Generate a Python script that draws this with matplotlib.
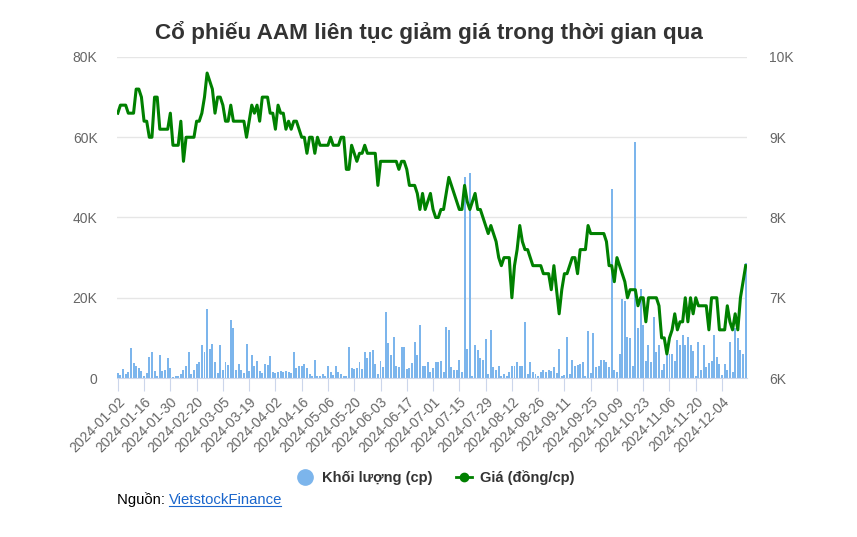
import numpy as np
import pandas as pd
import matplotlib
matplotlib.use("Agg")
import matplotlib.pyplot as plt
from matplotlib.lines import Line2D
from matplotlib.ticker import FuncFormatter, FixedLocator

# Trading days on HOSE (weekends and holidays removed)
holidays = ['2024-01-01', '2024-02-08', '2024-02-09', '2024-02-12', '2024-02-13',
            '2024-02-14', '2024-04-18', '2024-04-29', '2024-04-30', '2024-05-01',
            '2024-09-02', '2024-09-03']

# Price (thousand dong / share)
price = [9.3, 9.4, 9.4, 9.4, 9.3, 9.3, 9.3, 9.6, 9.6, 9.5,
         9.2, 9.2, 9.0, 9.0, 9.5, 9.5, 9.1, 9.1, 9.1, 9.1,
         9.3, 8.9, 8.9, 8.9, 9.2, 8.7, 9.0, 9.0, 9.0, 9.0,
         9.2, 9.2, 9.3, 9.5, 9.8, 9.7, 9.6, 9.3, 9.5, 9.5,
         9.4, 9.2, 9.2, 9.4, 9.2, 9.2, 9.2, 9.2, 9.2, 9.0,
         9.2, 9.4, 9.3, 9.4, 9.2, 9.5, 9.5, 9.5, 9.3, 9.3,
         9.1, 9.4, 9.3, 9.3, 9.1, 9.2, 9.1, 9.2, 9.2, 9.1,
         9.0, 9.0, 8.8, 9.0, 9.0, 8.8, 9.0, 8.9, 8.9, 8.9,
         8.9, 9.0, 8.9, 8.9, 8.9, 9.0, 9.0, 8.6, 8.6, 8.9,
         8.8, 8.7, 8.8, 8.8, 8.9, 8.8, 8.8, 8.8, 8.8, 8.4,
         8.7, 8.7, 8.7, 8.7, 8.7, 8.7, 8.7, 8.6, 8.7, 8.7,
         8.6, 8.4, 8.4, 8.4, 8.3, 8.1, 8.3, 8.1, 8.2, 8.3,
         8.1, 8.0, 8.0, 8.1, 8.1, 8.3, 8.5, 8.4, 8.3, 8.2,
         8.1, 8.1, 8.4, 8.2, 8.1, 8.2, 8.3, 8.1, 8.1, 8.0,
         7.9, 7.8, 7.9, 7.8, 7.7, 7.5, 7.4, 7.5, 7.5, 7.5,
         7.0, 7.4, 7.6, 7.9, 7.7, 7.6, 7.6, 7.5, 7.4, 7.4,
         7.4, 7.4, 7.3, 7.3, 7.3, 7.1, 7.4, 7.1, 6.8, 7.1,
         7.3, 7.3, 7.4, 7.5, 7.5, 7.3, 7.6, 7.6, 7.6, 7.9,
         7.8, 7.8, 7.8, 7.8, 7.8, 7.8, 7.7, 7.4, 7.4, 7.2,
         7.5, 7.4, 7.3, 7.2, 7.0, 7.1, 7.1, 7.1, 6.9, 7.0,
         7.0, 6.7, 7.0, 7.0, 7.0, 7.0, 6.9, 6.5, 6.5, 6.3,
         6.5, 6.6, 6.8, 6.6, 6.7, 6.7, 7.0, 6.7, 7.0, 6.8,
         7.0, 6.9, 6.9, 6.9, 6.9, 6.6, 7.0, 7.0, 7.0, 6.6,
         6.6, 6.6, 6.9, 6.7, 6.6, 6.8, 6.6, 7.0, 7.2, 7.4]

# Volume (thousand shares)
volume = [1.3, 0.8, 2.2, 1.0, 1.5, 7.5, 3.7, 2.9, 2.5, 1.7,
          0.5, 1.2, 5.3, 6.5, 1.7, 0.6, 5.7, 1.7, 2.1, 4.9,
          2.4, 0.3, 0.4, 0.6, 1.1, 1.9, 3.1, 6.4, 1.1, 2.0,
          3.5, 4.0, 8.1, 6.5, 17.2, 7.3, 8.5, 4.0, 1.2, 8.3,
          2.0, 4.0, 3.3, 14.4, 12.4, 2.0, 3.5, 1.9, 1.2, 8.4,
          1.7, 5.8, 3.0, 4.3, 1.7, 1.2, 3.5, 3.3, 5.4, 1.5,
          1.2, 1.5, 1.7, 1.5, 1.7, 1.5, 1.2, 6.5, 2.4, 3.1,
          3.1, 3.5, 2.4, 1.0, 0.5, 4.6, 0.6, 0.4, 1.0, 0.6,
          3.1, 1.5, 0.8, 3.1, 1.5, 1.0, 0.5, 0.6, 7.8, 2.4,
          2.2, 2.4, 4.0, 2.2, 6.5, 4.9, 6.5, 7.0, 3.5, 1.0,
          4.3, 2.8, 16.5, 8.8, 5.7, 10.1, 3.1, 2.8, 7.8, 7.8,
          2.2, 2.4, 3.7, 9.0, 5.7, 13.2, 3.1, 3.1, 4.0, 1.5,
          2.4, 4.0, 4.0, 4.3, 1.5, 12.8, 12.0, 2.8, 1.9, 2.0,
          4.6, 1.5, 50.1, 7.3, 51.0, 0.6, 8.3, 7.0, 5.1, 4.6,
          9.7, 1.0, 12.0, 2.8, 1.9, 3.1, 0.6, 1.0, 0.4, 1.5,
          3.1, 3.1, 4.0, 2.9, 3.1, 14.0, 1.0, 4.0, 1.5, 1.0,
          0.5, 1.5, 1.9, 1.5, 1.9, 1.7, 2.8, 1.2, 7.3, 0.6,
          0.8, 10.1, 1.0, 4.6, 3.1, 3.3, 3.5, 4.0, 0.5, 11.6,
          1.2, 11.2, 2.8, 3.1, 4.6, 4.6, 4.0, 2.8, 47.0, 1.9,
          1.5, 6.0, 19.8, 19.1, 10.3, 9.9, 3.1, 58.9, 12.4, 22.2,
          13.2, 4.3, 8.1, 4.0, 15.2, 6.5, 8.1, 1.9, 3.5, 5.7,
          6.0, 6.0, 4.3, 9.5, 8.3, 10.6, 8.3, 10.1, 8.1, 6.7,
          0.6, 9.0, 1.9, 8.1, 2.8, 3.7, 4.3, 10.6, 5.3, 3.5,
          0.8, 3.5, 1.9, 9.0, 1.5, 12.4, 10.0, 7.0, 6.0, 28.6]

day = pd.offsets.CustomBusinessDay(holidays=holidays)
dates = pd.date_range('2024-01-02', periods=len(price), freq=day)
labels = [d.strftime('%Y-%m-%d') for d in dates]

title = 'Cổ phiếu AAM liên tục giảm giá trong thời gian qua'
bar_color = '#7cb5ec'
line_color = '#008000'
grey = '#666666'

plt.rcParams['font.family'] = ['Liberation Sans', 'DejaVu Sans']

fig = plt.figure(figsize=(8.57, 5.37), dpi=100)
ax = fig.add_axes([117/857, 1-378/537, (747-117)/857, (378-57)/537])
ax2 = ax.twinx()

x = np.arange(len(price))
ax.bar(x, np.array(volume)*1000, width=0.75, color=bar_color, zorder=2)
ax2.plot(x, np.array(price)*1000, color=line_color, linewidth=2.2, zorder=3)

ax.set_xlim(-0.3, len(price) - 0.5)
ax.set_ylim(0, 80000)
ax2.set_ylim(6000, 10000)
ax.set_yticks([0, 20000, 40000, 60000, 80000])
ax2.set_yticks([6000, 7000, 8000, 9000, 10000])
kfmt = FuncFormatter(lambda v, p: '0' if v == 0 else f'{int(v/1000)}K')
ax.yaxis.set_major_formatter(kfmt)
ax2.yaxis.set_major_formatter(kfmt)

ax.grid(axis='y', color='#e6e6e6', linewidth=1, zorder=0)
ax.set_axisbelow(True)
ax2.set_zorder(ax.get_zorder() + 1)
ax2.patch.set_visible(False)

for a in (ax, ax2):
    for s in a.spines.values():
        s.set_visible(False)
ax.spines['bottom'].set_visible(True)
ax.spines['bottom'].set_color('#ccd6eb')

ax.tick_params(axis='y', length=0, labelsize=10, labelcolor=grey, pad=14)
ax2.tick_params(axis='y', length=0, labelsize=10, labelcolor=grey, pad=16)

tick_pos = list(range(0, len(price), 10))
ax.xaxis.set_major_locator(FixedLocator(tick_pos))
ax.set_xticklabels([labels[i] for i in tick_pos], rotation=45, ha='right',
                   rotation_mode='anchor')
ax.tick_params(axis='x', length=9, color='#ccd6eb', labelsize=10,
               labelcolor=grey, pad=3)

fig.text(0.5, 1-32/537, title, ha='center', va='center', fontsize=16.2,
         fontweight='bold', color='#333333')

handles = [Line2D([], [], marker='o', linestyle='none', markersize=11,
                  markerfacecolor=bar_color, markeredgecolor=bar_color),
           Line2D([], [], color=line_color, linewidth=2, marker='o',
                  markersize=6)]
fig.legend(handles, ['Khối lượng (cp)', 'Giá (đồng/cp)'], loc='center',
           bbox_to_anchor=(436/857, 1-478/537), ncol=2, frameon=False,
           prop={'weight': 'bold', 'size': 10.5}, labelcolor='#333333',
           handlelength=1.1, columnspacing=1.6, handletextpad=0.6)

t = fig.text(117/857, 1-500/537, 'Nguồn: ', ha='left', va='center',
             fontsize=10.7, color='black')
fig.canvas.draw()
bb = t.get_window_extent()
fig.text(bb.x1/857, 1-500/537, 'VietstockFinance', ha='left', va='center',
         fontsize=10.7, color='#1a66cc')
link = fig.texts[-1]
lb = link.get_window_extent()
fig.add_artist(Line2D([lb.x0/857, (lb.x1-2)/857], [(lb.y0+1)/537]*2,
                      color='#1a66cc', linewidth=0.8))

fig.savefig('out.png', dpi=100)
